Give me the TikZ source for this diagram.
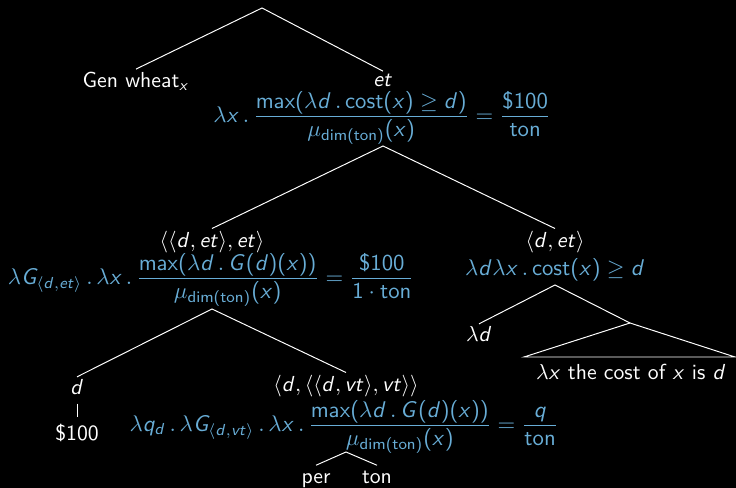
\documentclass[tikz,border=0pt]{standalone}
\usepackage{amsmath,amssymb}
\usepackage{graphicx}
\usepackage{xcolor}
\usepackage{tikz}
\usetikzlibrary{positioning}
\renewcommand{\familydefault}{\sfdefault}

% sans serif math, as on a slide
\DeclareSymbolFont{sfletters}{OT1}{cmss}{m}{sl}
\SetSymbolFont{operators}{normal}{OT1}{cmss}{m}{n}
\DeclareMathSymbol{d}{\mathalpha}{sfletters}{`d}
\DeclareMathSymbol{e}{\mathalpha}{sfletters}{`e}
\DeclareMathSymbol{t}{\mathalpha}{sfletters}{`t}
\DeclareMathSymbol{x}{\mathalpha}{sfletters}{`x}
\DeclareMathSymbol{q}{\mathalpha}{sfletters}{`q}
\DeclareMathSymbol{v}{\mathalpha}{sfletters}{`v}
\DeclareMathSymbol{G}{\mathalpha}{sfletters}{`G}

\definecolor{semblue}{RGB}{104,173,214}
\newcommand{\mudim}{\mu_{\text{dim(ton)}}}
\newcommand{\tightfrac}[2]{{\textstyle\frac{\displaystyle #1\rule[-3pt]{0pt}{3pt}}{\displaystyle\rule{0pt}{8pt}#2}}}
\newcommand{\semformula}[1]{\scalebox{1.045}{$#1$}}

\tikzset{
  word/.style={text=white, inner sep=1pt},
  sem/.style={text=semblue, inner sep=1pt},
  leaf/.style={word, text height=1.6ex, text depth=0.5ex},
  branch/.style={draw=white, line width=0.45pt},
}

\begin{document}
\begin{tikzpicture}[x=0.46pt, y=-0.46pt]
    \useasboundingbox[fill=black] (0,0) rectangle (736,488);

    % top of the tree
    \coordinate (root) at (262,8);
    \node[word] (gen) at (136,81) {Gen wheat$_x$};
    \node[word] (topty) at (383,80) {$et$};
    \node[sem] (topsem) at (382,118)
      {\semformula{\lambda x\,.\,\tightfrac{\max(\lambda d\,.\,\text{cost}(x)\geq d)}{\mudim(x)} = \tightfrac{\text{\$100}}{\text{ton}}}};
    \draw[branch] (gen.north) -- (root) -- (topty.north);
    \coordinate (topfork) at (383,146);

    % left daughter
    \node[word] (lty) at (212,242) {$\langle\langle d,et\rangle,et\rangle$};
    \node[sem] (lsem) at (211,280)
      {\semformula{\lambda G_{\langle d,et\rangle}\,.\,\lambda x\,.\,\tightfrac{\max(\lambda d\,.\,G(d)(x))}{\mudim(x)} = \tightfrac{\text{\$100}}{1\cdot\text{ton}}}};
    \coordinate (lfork) at (212,309);

    % right daughter
    \node[word] (rty) at (555,242) {$\langle d,et\rangle$};
    \node[sem] (rsem) at (555,270) {\semformula{\lambda d\lambda x\,.\,\text{cost}(x)\geq d}};
    \coordinate (rfork) at (555,285);
    \draw[branch] (lty.north) -- (topfork) -- (rty.north);

    % lambda d and the triangle
    \node[word] (lamd) at (479,334) {$\lambda d$};
    \coordinate (tri) at (630,323);
    \coordinate (triL) at (524,357);
    \coordinate (triR) at (735,357);
    \node[word] (cost) at (631,372) {$\lambda x$ the cost of $x$ is $d$};
    \draw[branch] (lamd.north) -- (rfork) -- (tri);
    \draw[branch] (tri) -- (triL) -- (triR) -- cycle;

    % d and per ton
    \node[word] (dty) at (77,387) {$d$};
    \node[word] (hundred) at (77,433) {\$100};
    \draw[branch, shorten <=3pt, shorten >=2pt] (dty.south) -- (hundred.north);
    \node[word] (perty) at (346,386) {$\langle d,\langle\langle d,vt\rangle,vt\rangle\rangle$};
    \node[sem] (persem) at (344,427)
      {\semformula{\lambda q_d\,.\,\lambda G_{\langle d,vt\rangle}\,.\,\lambda x\,.\,\tightfrac{\max(\lambda d\,.\,G(d)(x))}{\mudim(x)} = \tightfrac{q}{\text{ton}}}};
    \draw[branch] (dty.north) -- (lfork) -- (perty.north);
    \coordinate (pfork) at (346,452);
    \node[leaf] (per) at (316,478) {per};
    \node[leaf] (ton) at (377,478) {ton};
    \draw[branch] (per.north) -- (pfork) -- (ton.north);
  \end{tikzpicture}
\end{document}
